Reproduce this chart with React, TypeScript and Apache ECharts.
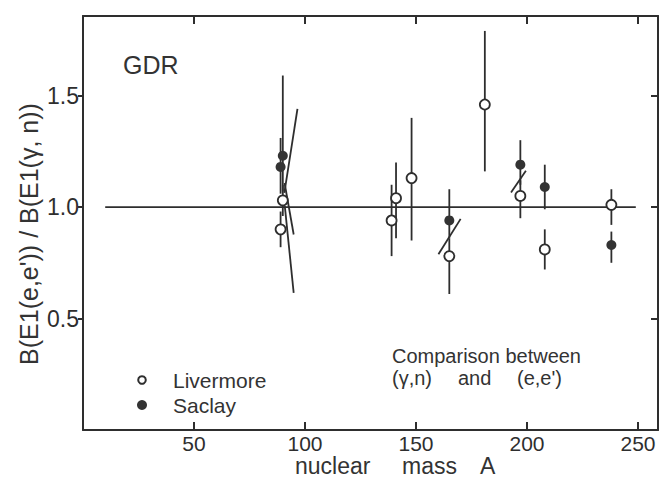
import React, { useEffect, useRef } from "react";
import * as echarts from "echarts";

// nuclear mass A
const livermoreA = [89, 90, 139, 141, 148, 165, 181, 197, 208, 238];
const livermoreVal = [0.9, 1.03, 0.94, 1.04, 1.13, 0.78, 1.46, 1.05, 0.81, 1.01];
const livermoreLow = [0.82, 0.96, 0.78, 0.86, 0.85, 0.61, 1.16, 0.95, 0.72, 0.92];
const livermoreHigh = [0.98, 1.1, 1.1, 1.2, 1.4, 0.86, 1.79, 1.12, 0.9, 1.08];

const saclayA = [89, 90, 165, 197, 208, 238];
const saclayVal = [1.18, 1.23, 0.94, 1.19, 1.09, 0.83];
const saclayLow = [1.06, 1.07, 0.86, 1.1, 0.99, 0.75];
const saclayHigh = [1.31, 1.59, 1.08, 1.3, 1.19, 0.89];

// slanted connecting strokes [A1, y1, A2, y2]
const strokes = [
  [96.6, 1.44, 90.7, 1.064],
  [90.8, 1.108, 94.9, 0.877],
  [90.9, 1.004, 94.9, 0.615],
  [170.1, 0.947, 160.1, 0.788],
  [199.5, 1.163, 192.8, 1.065],
];

// reference line y = 1
const refLine = [
  [10, 1],
  [249, 1],
];

const xTicks = [50, 100, 150, 200, 250];
const yTicks = [0.5, 1.0, 1.5];

const INK = "#2e2e2e";
const FONT = '"Liberation Sans", Arial, sans-serif';

export default function App() {
  const ref = useRef<HTMLDivElement>(null);
  useEffect(() => {
    if (!ref.current) return;
    const chart = echarts.init(ref.current, undefined, { renderer: "svg" });

    const errRender = (params: any, api: any) => {
      const x = api.value(0);
      const p1 = api.coord([x, api.value(1)]);
      const p2 = api.coord([x, api.value(2)]);
      return {
        type: "line",
        shape: { x1: p1[0], y1: p1[1], x2: p2[0], y2: p2[1] },
        style: { stroke: INK, lineWidth: 1.8 },
      };
    };
    const segRender = (params: any, api: any) => {
      const p1 = api.coord([api.value(0), api.value(1)]);
      const p2 = api.coord([api.value(2), api.value(3)]);
      return {
        type: "line",
        shape: { x1: p1[0], y1: p1[1], x2: p2[0], y2: p2[1] },
        style: { stroke: INK, lineWidth: 1.8 },
      };
    };

    const axisLine = { show: true, onZero: false, lineStyle: { color: INK, width: 2 } };
    const txt = (text: string, x: number, y: number, size: number) => ({
      type: "text",
      x,
      y,
      style: { text, fontSize: size, fontFamily: FONT, fill: "#333", align: "left", verticalAlign: "middle" },
    });

    chart.setOption({
      animation: false,
      backgroundColor: "#ffffff",
      grid: { left: 83, top: 16, right: 4, bottom: 48, containLabel: false },
      xAxis: [
        {
          type: "value",
          position: "bottom",
          min: 0,
          max: 259,
          interval: 50,
          axisLine,
          splitLine: { show: false },
          axisTick: {
            show: true,
            inside: true,
            length: 8,
            lineStyle: { color: INK, width: 2 },
            customValues: xTicks,
          },
          axisLabel: {
            show: true,
            customValues: xTicks,
            margin: 3,
            color: INK,
            fontSize: 21,
            fontFamily: FONT,
          },
        },
        {
          type: "value",
          position: "top",
          min: 0,
          max: 259,
          interval: 50,
          axisLine,
          splitLine: { show: false },
          axisTick: {
            show: true,
            inside: true,
            length: 8,
            lineStyle: { color: INK, width: 2 },
            customValues: xTicks,
          },
          axisLabel: { show: false },
        },
      ],
      yAxis: [
        {
          type: "value",
          position: "left",
          min: 0,
          max: 1.857,
          interval: 0.5,
          axisLine,
          splitLine: { show: false },
          axisTick: {
            show: true,
            inside: false,
            length: 5,
            lineStyle: { color: INK, width: 2 },
            customValues: yTicks,
          },
          axisLabel: {
            show: true,
            customValues: yTicks,
            margin: 4,
            color: INK,
            fontSize: 23,
            fontFamily: FONT,
            formatter: (v: number) => v.toFixed(1),
          },
        },
        {
          type: "value",
          position: "right",
          min: 0,
          max: 1.857,
          interval: 0.5,
          axisLine,
          splitLine: { show: false },
          axisTick: {
            show: true,
            inside: true,
            length: 7,
            lineStyle: { color: INK, width: 2 },
            customValues: yTicks,
          },
          axisLabel: { show: false },
        },
      ],
      series: [
        {
          type: "line",
          data: refLine,
          symbol: "none",
          lineStyle: { color: INK, width: 1.8 },
          z: 1,
        },
        {
          type: "custom",
          renderItem: segRender,
          data: strokes,
          encode: { x: [0, 2], y: [1, 3] },
          z: 2,
        },
        {
          type: "custom",
          renderItem: errRender,
          data: livermoreA.map((a, i) => [a, livermoreLow[i], livermoreHigh[i]]),
          encode: { x: 0, y: [1, 2] },
          z: 2,
        },
        {
          type: "custom",
          renderItem: errRender,
          data: saclayA.map((a, i) => [a, saclayLow[i], saclayHigh[i]]),
          encode: { x: 0, y: [1, 2] },
          z: 2,
        },
        {
          name: "Saclay",
          type: "scatter",
          data: saclayA.map((a, i) => [a, saclayVal[i]]),
          symbol: "circle",
          symbolSize: 10,
          itemStyle: { color: "#333333", opacity: 1 },
          z: 4,
        },
        {
          name: "Livermore",
          type: "scatter",
          data: livermoreA.map((a, i) => [a, livermoreVal[i]]),
          symbol: "circle",
          symbolSize: 10,
          itemStyle: { color: "#ffffff", borderColor: INK, borderWidth: 1.8, opacity: 1 },
          z: 5,
        },
      ],
      graphic: [
        txt("GDR", 123, 65, 25),
        {
          type: "text",
          x: 29,
          y: 234,
          rotation: Math.PI / 2,
          style: {
            text: "B(E1(e,e')) / B(E1(\u03b3, n))",
            fontSize: 25,
            fontFamily: FONT,
            fill: "#333",
            align: "center",
            verticalAlign: "middle",
          },
        },
        txt("nuclear", 295, 466, 23),
        txt("mass", 402, 466, 23),
        txt("A", 480, 466, 23),
        txt("Comparison between", 392, 356, 20),
        txt("(\u03b3,n)", 392, 378, 20),
        txt("and", 458, 378, 20),
        txt("(e,e')", 517, 378, 20),
        {
          type: "circle",
          shape: { cx: 142, cy: 380, r: 3.8 },
          style: { fill: "#fff", stroke: INK, lineWidth: 2 },
        },
        {
          type: "circle",
          shape: { cx: 142, cy: 405, r: 5 },
          style: { fill: "#333" },
        },
        txt("Livermore", 173, 380, 21),
        txt("Saclay", 173, 405, 21),
      ],
    });
    return () => chart.dispose();
  }, []);

  return (
    <div
      ref={ref}
      style={{ position: "fixed", left: 0, top: 0, width: 662, height: 478, background: "#fff" }}
    />
  );
}
